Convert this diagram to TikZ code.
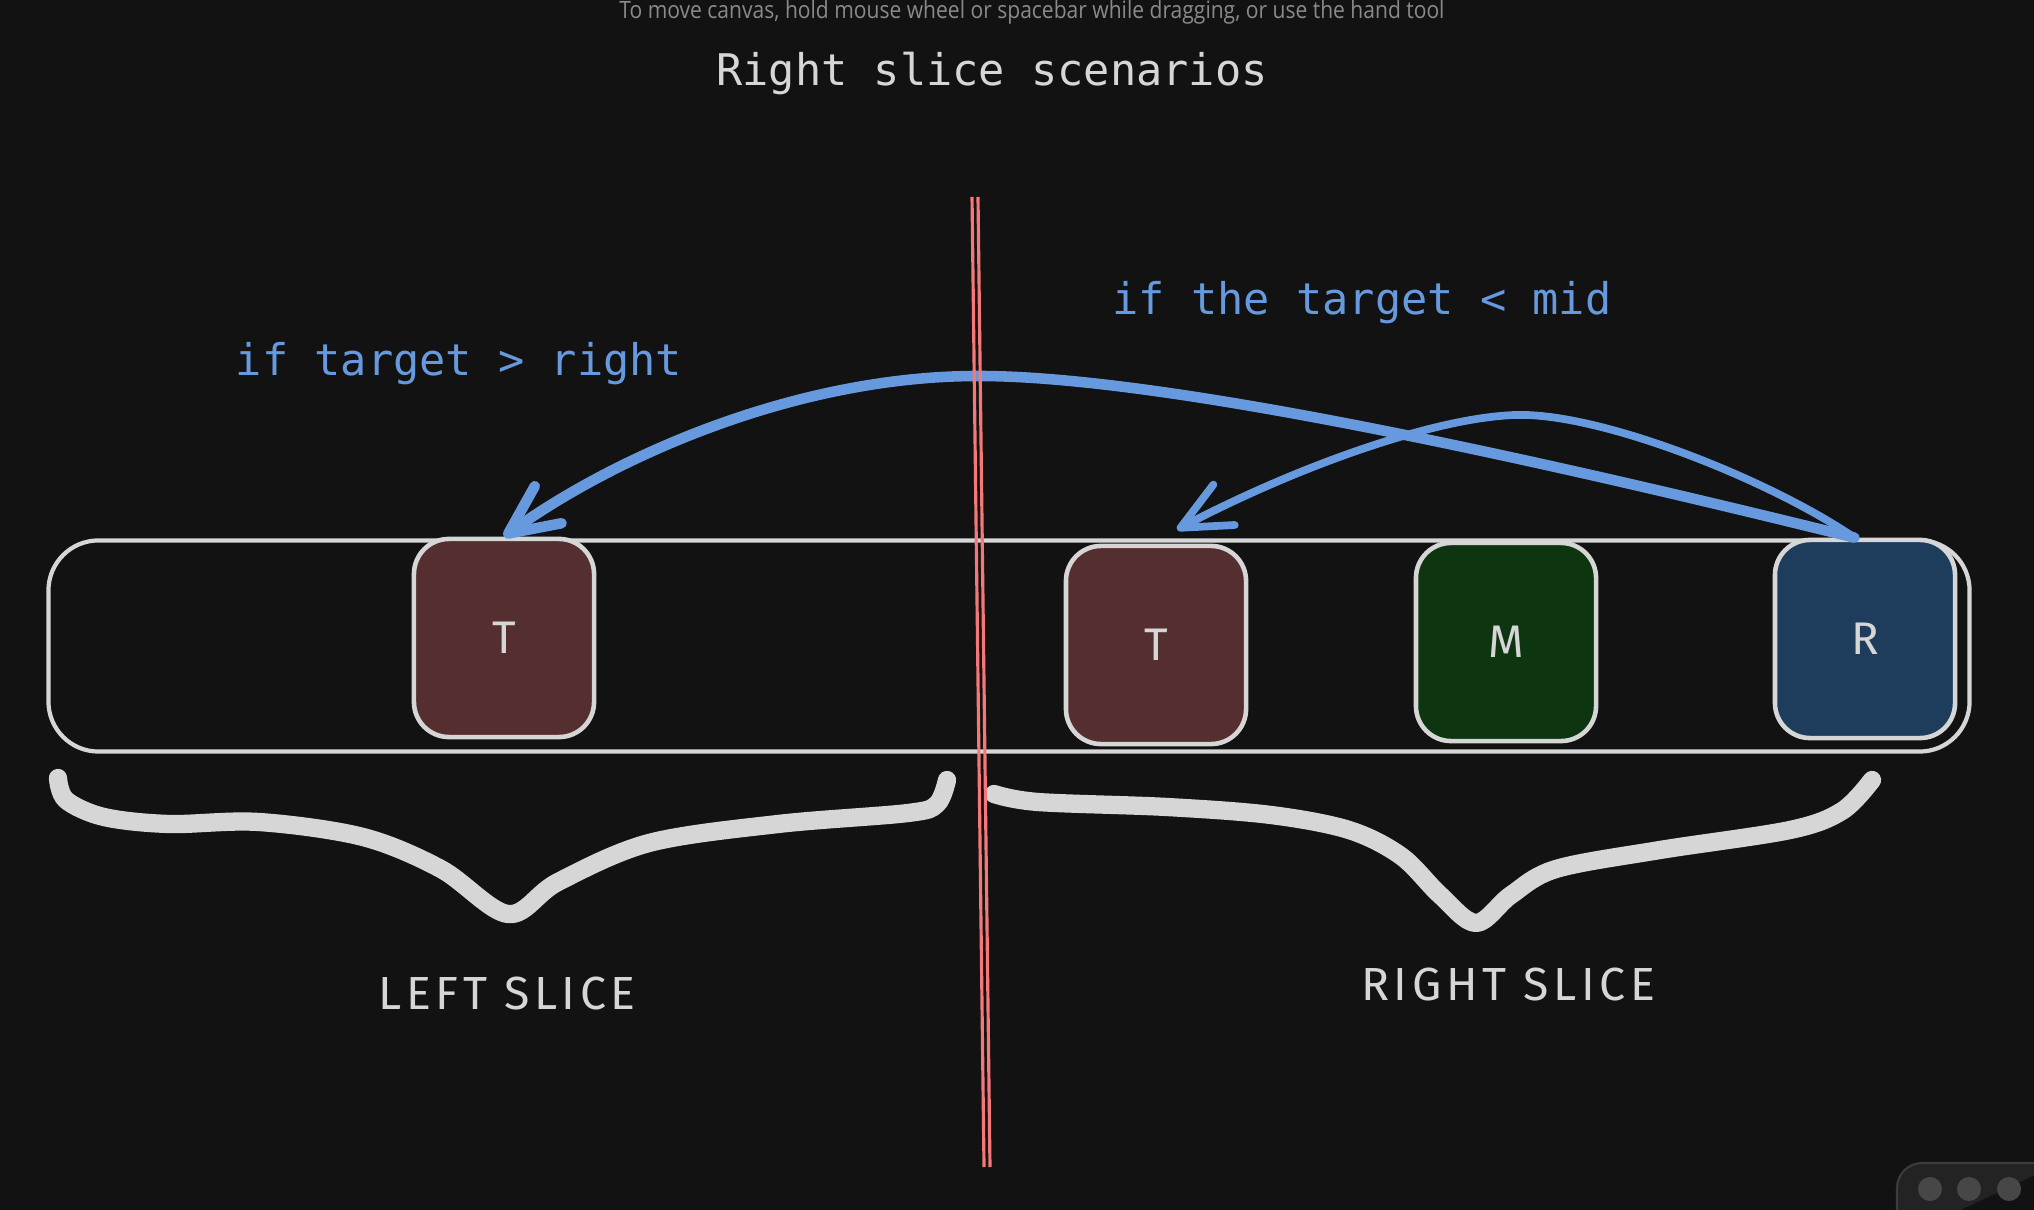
\documentclass[tikz,border=0pt]{standalone}
\usepackage{fontspec}
\setmonofont{DejaVu Sans Mono}
\newfontfamily\handfont[LetterSpace=10]{Fira Sans}
\newfontfamily\uifont{Open Sans}
\usetikzlibrary{arrows.meta, calc}
\definecolor{boardBg}{HTML}{121212}
\definecolor{chalk}{HTML}{D6D6D6}
\definecolor{hintGrey}{HTML}{8A8A8A}
\definecolor{cueBlue}{HTML}{6699DD}
\definecolor{cutRed}{HTML}{F57878}
\definecolor{targetFill}{HTML}{552F30}
\definecolor{midFill}{HTML}{0D3510}
\definecolor{rightFill}{HTML}{1E3D5D}
\definecolor{panelFill}{HTML}{232323}
\definecolor{panelEdge}{HTML}{3C3C3C}
\definecolor{dotGrey}{HTML}{474747}

\begin{document}
\begin{tikzpicture}[x=0.01cm, y=-0.01cm,
    cell/.style={draw=chalk, line width=1.3pt, rounded corners=0.35cm, minimum width=1.8cm, minimum height=1.98cm, inner sep=0pt, text=chalk, font=\handfont\fontsize{13}{15}\selectfont},
    cue/.style={cueBlue, line width=3pt, line cap=round, -{Straight Barb[length=14pt, width=13pt, round]}},
    brace/.style={chalk, line width=5.2pt, line cap=round, line join=round},
    cuetext/.style={cueBlue, font=\ttfamily\fontsize{12.4}{14}\selectfont, anchor=base},
    slicetext/.style={chalk, font=\handfont\fontsize{13.2}{15}\selectfont, anchor=base}]

  \useasboundingbox (0,0) rectangle (2034,1210);
  \clip (0,0) rectangle (2034,1210);
  \fill[boardBg] (0,0) rectangle (2034,1210);

  % canvas hint and title
  \node[hintGrey, font=\uifont\fontsize{6.8}{8}\selectfont, anchor=base, inner sep=0pt] (hint) at (1032,19) {\scalebox{0.88}[1]{To move canvas, hold mouse wheel or spacebar while dragging, or use the hand tool}};
  \node[chalk, font=\ttfamily\fontsize{12.4}{14}\selectfont, anchor=base] (title) at (992,86) {Right slice scenarios};

  % the array and its cells
  \node[draw=chalk, line width=1.2pt, rounded corners=0.5cm, minimum width=19.2cm, minimum height=2.11cm] (arr) at (1009,646) {};
  \node[cell, fill=targetFill] (tl) at (504,638) {T};
  \node[cell, fill=targetFill] (tr) at (1156,645) {T};
  \node[cell, fill=midFill] (mid) at (1506,642) {M};
  \node[cell, fill=rightFill] (rgt) at (1865,639) {R};

  % arrows
  \coordinate (peakA) at (975,376);
  \coordinate (peakB) at (1515,415);
  \draw[cue] ([xshift=-3pt]rgt.north) .. controls (1500,450) and (1150,375) .. (peakA)
    .. controls (790,377) and (610,460) .. (tl.north);
  \draw[cue, line width=2.2pt] ([xshift=-3pt]rgt.north) .. controls (1770,480) and (1600,412) .. (peakB)
    .. controls (1430,418) and (1290,470) .. ([xshift=6pt, yshift=4pt]tr.north);

  \node[cuetext] (ifRight) at (459,376) {if target > right};
  \node[cuetext] (ifMid) at (1362,315) {if the target < mid};

  % braces
  \draw[brace] plot[smooth, tension=0.55] coordinates {(58,778) (66,800) (104,817) (169,824) (259,822) (363,837) (441,869) (508,914) (558,882) (649,843) (778,824) (908,813) (937,804) (947,780)};
  \draw[brace] plot[smooth, tension=0.55] coordinates {(994,794) (1038,802) (1167,807) (1271,815) (1349,830) (1401,856) (1440,895) (1476,923) (1511,895) (1556,869) (1660,850) (1790,830) (1842,811) (1872,780)};

  \node[slicetext] (leftSlice) at (507,1009) {LEFT SLICE};
  \node[slicetext] (rightSlice) at (1508,1000) {RIGHT SLICE};

  % split line
  \coordinate (cutTop) at (975,197);
  \coordinate (cutBot) at (987,1167);
  \draw[cutRed, line width=0.9pt] ([xshift=-0.85pt]cutTop) -- ([xshift=-0.85pt]cutBot);
  \draw[cutRed, line width=0.9pt] ([xshift=0.85pt]cutTop) -- ([xshift=0.85pt]cutBot);

  % corner panel
  \draw[panelEdge, fill=panelFill, rounded corners=0.25cm, line width=0.6pt] (1897,1240) -- (1897,1163) -- (2060,1163);
  \foreach \dotx in {1930,1969,2009}
    \fill[dotGrey] (\dotx,1189) circle (0.12cm);
\end{tikzpicture}
\end{document}
